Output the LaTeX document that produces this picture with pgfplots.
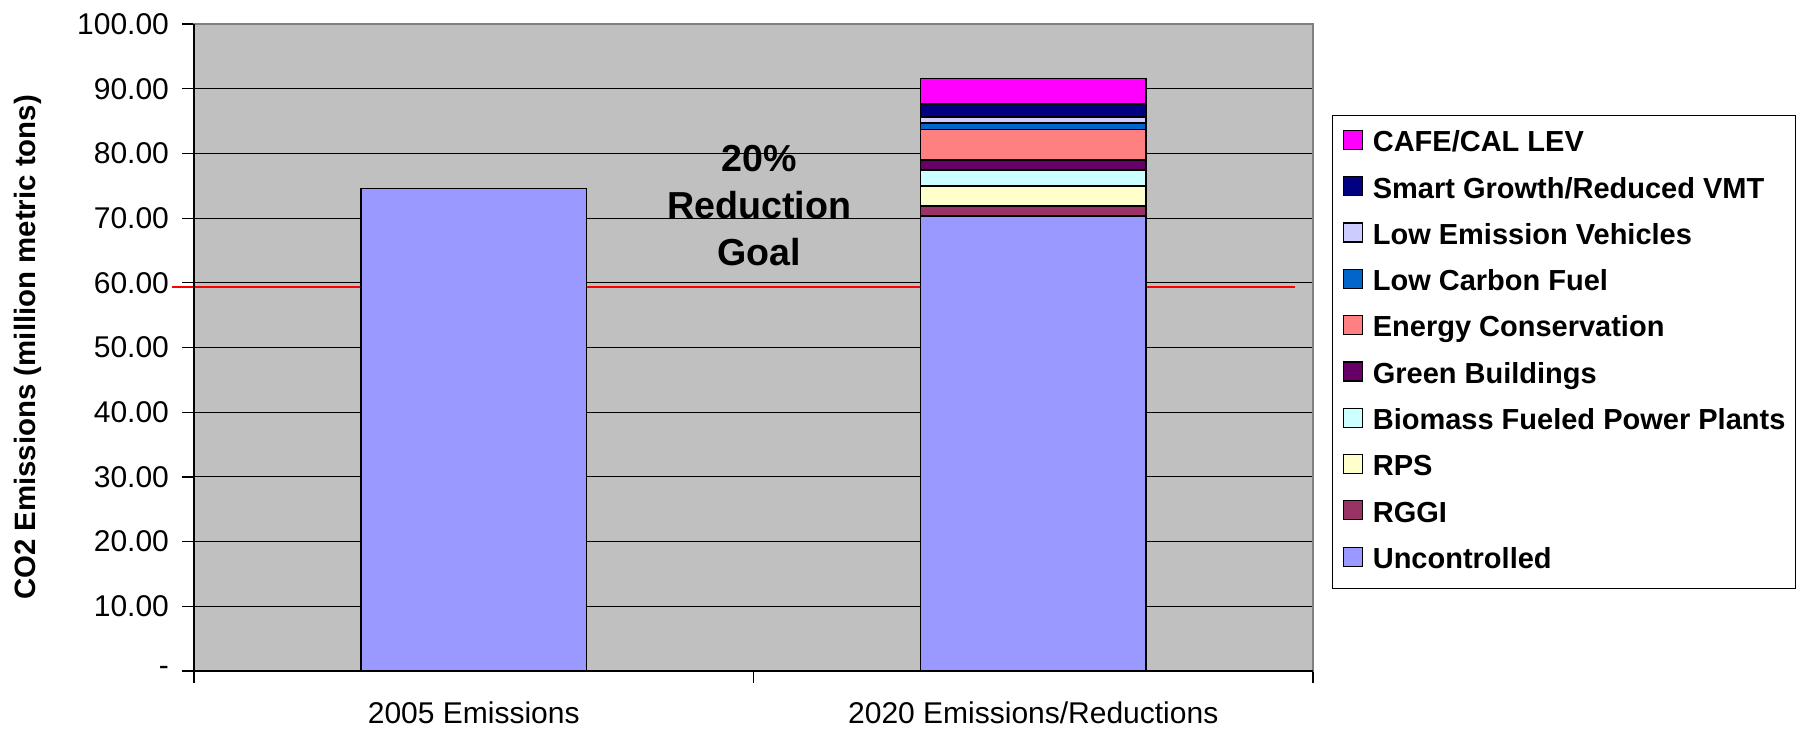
\documentclass[border=0pt]{standalone}
\usepackage{fontspec}
\setmainfont{Liberation Sans}
\usepackage{pgfplots}
\pgfplotsset{compat=1.18}

\definecolor{plotbg}{HTML}{C0C0C0}
\definecolor{cUnc}{HTML}{9999FF}
\definecolor{cRggi}{HTML}{993366}
\definecolor{cRps}{HTML}{FFFFCC}
\definecolor{cBio}{HTML}{CCFFFF}
\definecolor{cGreen}{HTML}{660066}
\definecolor{cEnergy}{HTML}{FF8080}
\definecolor{cLcf}{HTML}{0066CC}
\definecolor{cLev}{HTML}{CCCCFF}
\definecolor{cSmart}{HTML}{000080}
\definecolor{cCafe}{HTML}{FF00FF}

\begin{document}
\begin{tikzpicture}
\path[use as bounding box] (-97pt,-29.5pt) rectangle (802.5pt,335.5pt);
\begin{axis}[
    at={(0,0)}, anchor=south west,
    scale only axis,
    width=559.5pt, height=323.5pt,
    xmin=-0.5, xmax=1.5,
    ymin=0, ymax=100,
    ybar stacked,
    bar width=0.403,
    clip=false,
    axis background/.style={fill=plotbg},
    axis line style={draw=gray, line width=1pt},
    tick align=outside,
    tick pos=left,
    major tick length=6pt,
    tick style={black, line width=0.6pt},
    xtick={-0.5,0.5,1.5},
    xticklabels={},
    extra x ticks={0,1},
    extra x tick labels={2005 Emissions, 2020 Emissions/Reductions},
    extra x tick style={major tick length=0pt, xticklabel style={yshift=-12pt}},
    ytick={0,10,...,100},
    yticklabels={-,10.00,20.00,30.00,40.00,50.00,60.00,70.00,80.00,90.00,100.00},
    yticklabel style={xshift=-3pt},
    ticklabel style={font=\fontsize{15}{18}\selectfont},
    ymajorgrids,
    grid style={black, line width=0.5pt},
    ylabel={CO2 Emissions (million metric tons)},
    ylabel style={at={(axis description cs:-0.148,0.5)}, anchor=center,
        font=\bfseries\fontsize{14.7}{17}\selectfont},
    legend style={at={(rel axis cs:1.017,0.859)}, anchor=north west,
        draw=black, fill=white, line width=0.6pt,
        font=\bfseries\fontsize{14.5}{17}\selectfont,
        row sep=9.2pt, inner xsep=5pt, inner ysep=7pt,
        nodes={inner sep=0pt, text height=10.5pt, text depth=3pt, anchor=west},
        /tikz/every odd column/.append style={column sep=5pt}},
    legend cell align=left,
    legend image code/.code={\draw[#1, draw=black, line width=0.6pt] (0pt,-2.6pt) rectangle (9.5pt,6.9pt);},
    reverse legend,
]
\addplot[fill=cUnc, draw=black, line width=0.8pt] coordinates {(0,74.6) (1,70.3)};
\addlegendentry{Uncontrolled}
\addplot[fill=cRggi, draw=black, line width=0.8pt] coordinates {(0,0) (1,1.6)};
\addlegendentry{RGGI}
\addplot[fill=cRps, draw=black, line width=0.8pt] coordinates {(0,0) (1,3.1)};
\addlegendentry{RPS}
\addplot[fill=cBio, draw=black, line width=0.8pt] coordinates {(0,0) (1,2.4)};
\addlegendentry{Biomass Fueled Power Plants}
\addplot[fill=cGreen, draw=black, line width=0.8pt] coordinates {(0,0) (1,1.6)};
\addlegendentry{Green Buildings}
\addplot[fill=cEnergy, draw=black, line width=0.8pt] coordinates {(0,0) (1,4.7)};
\addlegendentry{Energy Conservation}
\addplot[fill=cLcf, draw=black, line width=0.8pt] coordinates {(0,0) (1,1.0)};
\addlegendentry{Low Carbon Fuel}
\addplot[fill=cLev, draw=black, line width=0.8pt] coordinates {(0,0) (1,0.9)};
\addlegendentry{Low Emission Vehicles}
\addplot[fill=cSmart, draw=black, line width=0.8pt] coordinates {(0,0) (1,2.0)};
\addlegendentry{Smart Growth/Reduced VMT}
\addplot[fill=cCafe, draw=black, line width=0.8pt] coordinates {(0,0) (1,4.0)};
\addlegendentry{CAFE/CAL LEV}

% black left and bottom axis lines over the grey frame
\draw[black, line width=0.8pt] (rel axis cs:0,1) -- (rel axis cs:0,0) -- (rel axis cs:1,0);
% 20% reduction goal line
\draw[red, line width=1pt] (axis cs:-0.539,59.3) -- (axis cs:1.468,59.3);
\node[font=\bfseries\fontsize{18.8}{23.5}\selectfont, align=center]
    at (axis cs:0.51,72) {20\%\\Reduction\\Goal};
\end{axis}
\end{tikzpicture}
\end{document}
